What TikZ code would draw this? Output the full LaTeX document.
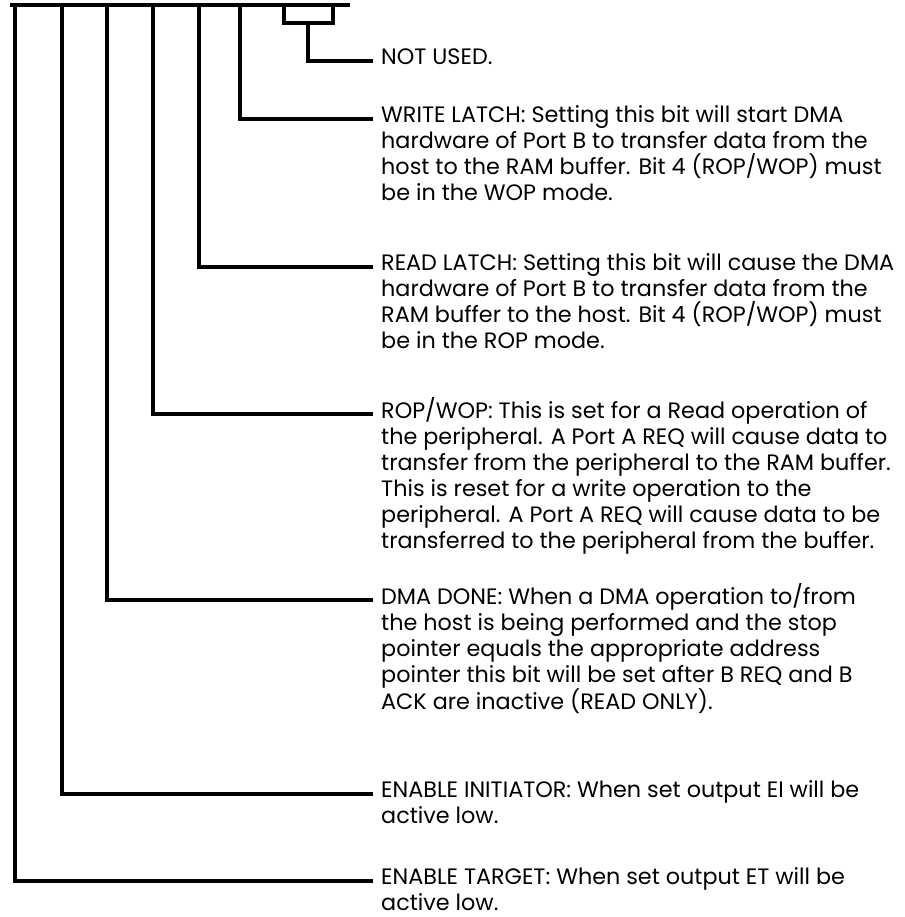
\documentclass[tikz,border=0pt]{standalone}
\usepackage{fontspec}
\setmainfont{Poppins}
\newcommand\fstrut{\rule{0pt}{20pt}}
\begin{document}
\begin{tikzpicture}[x=1pt,y=-1pt,
  bitline/.style={line width=3.3pt, line cap=rect, line join=miter},
  desc/.style={anchor=north west, inner sep=0pt, align=left,
    font=\fontsize{22.3}{26}\selectfont}]
\useasboundingbox (0,0) rectangle (904,917);
% top bar
\coordinate (barL) at (12,5);
\coordinate (barR) at (348,5);
\draw[bitline] (barL) -- (barR);
% bit tops
\coordinate (b7) at (15,5);
\coordinate (b6) at (62,5);
\coordinate (b5) at (107,5);
\coordinate (b4) at (153,5);
\coordinate (b3) at (199,5);
\coordinate (b2) at (240,5);
\coordinate (bxa) at (284,5);
\coordinate (bxb) at (333,5);
\coordinate (stub) at (308,23);
% line ends
\coordinate (e0) at (371,61);
\coordinate (e2) at (371,119);
\coordinate (e3) at (371,267);
\coordinate (e4) at (371,414);
\coordinate (e5) at (371,600);
\coordinate (e6) at (371,794);
\coordinate (e7) at (371,881);
% texts
\node[desc] (t0) at (381,64-20) {\fstrut NOT USED.};
\node[desc] (t2) at (381,122-20) {\fstrut WRITE LATCH: Setting this bit will start DMA\\
hardware of Port B to transfer data from the\\
host to the RAM buffer. Bit 4 (ROP/WOP) must\\
be in the WOP mode.};
\node[desc] (t3) at (381,270-20) {\fstrut READ LATCH: Setting this bit will cause the DMA\\
hardware of Port B to transfer data from the\\
RAM buffer to the host. Bit 4 (ROP/WOP) must\\
be in the ROP mode.};
\node[desc] (t4) at (381,417-20) {\fstrut ROP/WOP: This is set for a Read operation of\\
the peripheral. A Port A REQ will cause data to\\
transfer from the peripheral to the RAM buffer.\\
This is reset for a write operation to the\\
peripheral. A Port A REQ will cause data to be\\
transferred to the peripheral from the buffer.};
\node[desc] (t5) at (381,603-20) {\fstrut DMA DONE: When a DMA operation to/from\\
the host is being performed and the stop\\
pointer equals the appropriate address\\
pointer this bit will be set after B REQ and B\\
ACK are inactive (READ ONLY).};
\node[desc] (t6) at (381,797-20) {\fstrut ENABLE INITIATOR: When set output EI will be\\
active low.};
\node[desc] (t7) at (381,884-20) {\fstrut ENABLE TARGET: When set output ET will be\\
active low.};
% connectors
\draw[bitline] (bxa) |- (stub) -| (bxb);
\draw[bitline] (stub) |- (e0);
\draw[bitline] (b2) |- (e2);
\draw[bitline] (b3) |- (e3);
\draw[bitline] (b4) |- (e4);
\draw[bitline] (b5) |- (e5);
\draw[bitline] (b6) |- (e6);
\draw[bitline] (b7) |- (e7);
\end{tikzpicture}
\end{document}
